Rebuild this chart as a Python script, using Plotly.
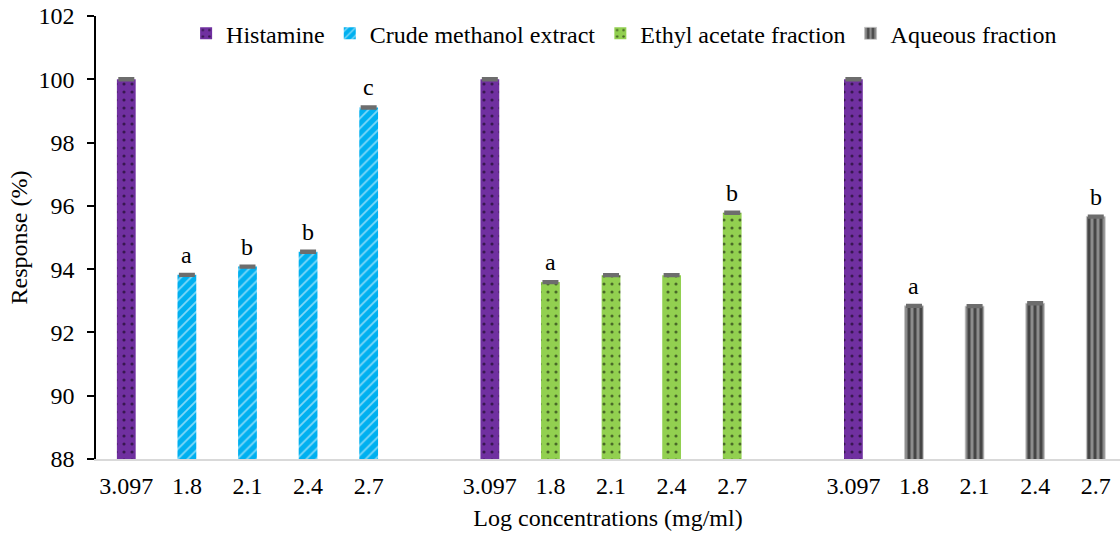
import plotly.graph_objects as go

conc_labels = ["3.097", "1.8", "2.1", "2.4", "2.7"]
histamine = [100.0, 100.0, 100.0]
crude = [93.82, 94.08, 94.55, 99.11]
ethyl = [93.59, 93.81, 93.81, 95.78]
aqueous = [92.84, 92.83, 92.92, 95.66]
crude_letters = ["a", "b", "b", "c"]
ethyl_letters = ["a", "", "", "b"]
aqueous_letters = ["a", "", "", "b"]
err = 0.03

FONT = "Liberation Serif"
FS = 24

group_base = [0, 6, 12]
hist_x = group_base
ext_x = [[b + i for i in range(1, 5)] for b in group_base]

tickvals = []
ticktext = []
for b in group_base:
    for i, lab in enumerate(conc_labels):
        tickvals.append(b + i)
        ticktext.append(lab)

W = 0.31
fig = go.Figure()

def add_bar(name, x, y, color, shape, fg, size, solidity, line_color=None):
    fig.add_trace(go.Bar(
        name=name, x=x, y=y, width=W,
        marker=dict(color=color,
                    line=dict(width=0.8 if line_color else 0, color=line_color or color),
                    pattern=dict(shape=shape, fgcolor=fg, bgcolor=color, size=size,
                                 solidity=solidity, fillmode="overlay")),
        error_y=dict(type="data", array=[err] * len(y), symmetric=True,
                     color="#6d6d6d", thickness=2.5, width=8),
    ))

add_bar("Histamine", hist_x, histamine, "#7030A0", ".", "#000000", 8, 0.12)
add_bar("Crude methanol extract", ext_x[0], crude, "#00B0F0", "/", "#ffffff", 7, 0.25)
add_bar("Ethyl acetate fraction", ext_x[1], ethyl, "#92D050", ".", "#000000", 8, 0.12)
add_bar("Aqueous fraction", ext_x[2], aqueous, "#8c8c8c", "|", "#000000", 6, 0.5, "#c8c8c8")

for xs, vals, letters in [(ext_x[0], crude, crude_letters),
                          (ext_x[1], ethyl, ethyl_letters),
                          (ext_x[2], aqueous, aqueous_letters)]:
    for x, v, t in zip(xs, vals, letters):
        if t:
            fig.add_annotation(x=x, y=v, text=t, showarrow=False, yshift=20,
                               font=dict(family=FONT, size=FS, color="#000"))

fig.update_layout(
    width=1120, height=535,
    margin=dict(l=96, r=0, t=16, b=76),
    paper_bgcolor="white", plot_bgcolor="white",
    font=dict(family=FONT, size=FS, color="#000"),
    barmode="overlay",
    showlegend=True,
    legend=dict(orientation="h", x=0.088, xanchor="left", y=0.96, yanchor="middle",
                bgcolor="rgba(0,0,0,0)", font=dict(family=FONT, size=FS, color="#000"),
                itemwidth=30, tracegroupgap=0),
    xaxis=dict(range=[-0.5, 16.4], tickmode="array", tickvals=tickvals, ticktext=ticktext,
               showgrid=False, zeroline=False, showline=True, linecolor="#d9d9d9",
               linewidth=1.5, ticks="", ticklabelstandoff=4,
               tickfont=dict(family=FONT, size=FS, color="#000"),
               title=dict(text="Log concentrations (mg/ml)",
                          font=dict(family=FONT, size=FS, color="#000"), standoff=12)),
    yaxis=dict(range=[88, 102], dtick=2, showgrid=False, zeroline=False,
               showline=True, linecolor="#000", linewidth=1.5, ticks="outside",
               ticklen=7, tickcolor="#000", tickwidth=1.5, ticklabelstandoff=8,
               tickfont=dict(family=FONT, size=FS, color="#000"),
               title=dict(text="Response (%)", font=dict(family=FONT, size=FS, color="#000"),
                          standoff=4)),
)

fig.write_html("out.html")
